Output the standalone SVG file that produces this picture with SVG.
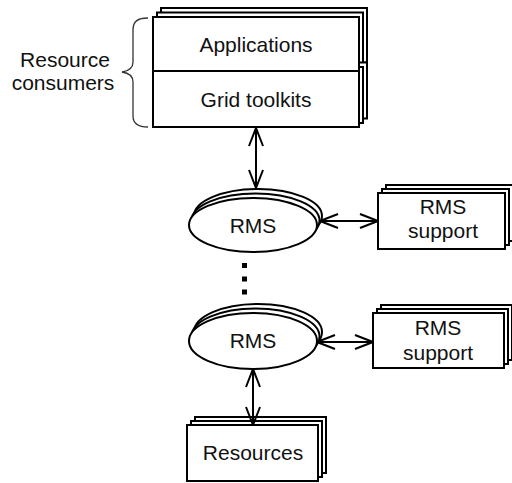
<svg xmlns="http://www.w3.org/2000/svg" width="512" height="483" viewBox="0 0 512 483">
<style>
.b{fill:#fff;stroke:#000;stroke-width:2}
.t{font-family:"Liberation Sans",Arial,sans-serif;font-size:21px;fill:#111;text-anchor:middle}
.c{fill:none;stroke:#000;stroke-width:2}
</style>
<defs>
<marker id="ah" viewBox="0 0 20 16" refX="19" refY="8" markerWidth="20" markerHeight="16" markerUnits="userSpaceOnUse" orient="auto-start-reverse">
<path d="M1,1 L19,8 L1,15" fill="none" stroke="#000" stroke-width="2"/>
</marker>
</defs>
<rect width="512" height="483" fill="#fff"/>
<g id="consumers-label">
<path d="M148,18 C138,18 133,21 133,30 L133,62 C133,68 129,71 122,72 C129,73 133,76 133,82 L133,116 C133,124 138,127 148,127" fill="none" stroke="#333" stroke-width="1.3"/>
<text class="t" x="65" y="67">Resource</text>
<text class="t" x="63" y="90">consumers</text>
</g>
<g id="consumers">
<rect class="b" x="161" y="8" width="206" height="54.5"/>
<rect class="b" x="157" y="12.5" width="206" height="54.5"/>
<rect class="b" x="161" y="62.5" width="206" height="56"/>
<rect class="b" x="157" y="67" width="206" height="56"/>
<rect class="b" x="153" y="17" width="206" height="54"/>
<rect class="b" x="153" y="71" width="206" height="56"/>
<text class="t" x="256" y="52">Applications</text>
<text class="t" x="256" y="107">Grid toolkits</text>
</g>
<g id="rms1">
<ellipse class="b" cx="258" cy="216" rx="64" ry="27"/>
<ellipse class="b" cx="255.5" cy="220.5" rx="64" ry="27"/>
<ellipse class="b" cx="253" cy="225" rx="64" ry="27"/>
<text class="t" x="253" y="233">RMS</text>
</g>
<g id="support1">
<rect class="b" x="386" y="185" width="127" height="56"/>
<rect class="b" x="382" y="189" width="127" height="56"/>
<rect class="b" x="378" y="193" width="127" height="56"/>
<text class="t" x="443" y="214">RMS</text>
<text class="t" x="443" y="238">support</text>
</g>
<g id="ellipsis">
<rect x="242" y="263" width="5" height="5" fill="#000"/>
<rect x="242" y="276.5" width="5" height="5" fill="#000"/>
<rect x="242" y="289.5" width="5" height="5" fill="#000"/>
</g>
<g id="rms2">
<ellipse class="b" cx="258" cy="332" rx="64" ry="28"/>
<ellipse class="b" cx="255.5" cy="336.5" rx="64" ry="28"/>
<ellipse class="b" cx="253" cy="341" rx="64" ry="28"/>
<text class="t" x="253" y="348">RMS</text>
</g>
<g id="support2">
<rect class="b" x="381" y="305" width="131" height="55"/>
<rect class="b" x="377" y="309" width="131" height="55"/>
<rect class="b" x="373" y="313" width="131" height="55"/>
<text class="t" x="438" y="335">RMS</text>
<text class="t" x="438" y="360">support</text>
</g>
<g id="resources">
<rect class="b" x="195" y="417" width="131" height="56"/>
<rect class="b" x="191" y="421" width="131" height="56"/>
<rect class="b" x="187" y="425" width="131" height="56"/>
<text class="t" x="253" y="460">Resources</text>
</g>
<g id="connectors">
<line class="c" x1="256" y1="128" x2="256" y2="188" marker-start="url(#ah)" marker-end="url(#ah)"/>
<line class="c" x1="320" y1="221" x2="378" y2="221" marker-start="url(#ah)" marker-end="url(#ah)"/>
<line class="c" x1="317" y1="342" x2="373" y2="342" marker-start="url(#ah)" marker-end="url(#ah)"/>
<line class="c" x1="253" y1="369" x2="253" y2="425" marker-start="url(#ah)" marker-end="url(#ah)"/>
</g>
</svg>
